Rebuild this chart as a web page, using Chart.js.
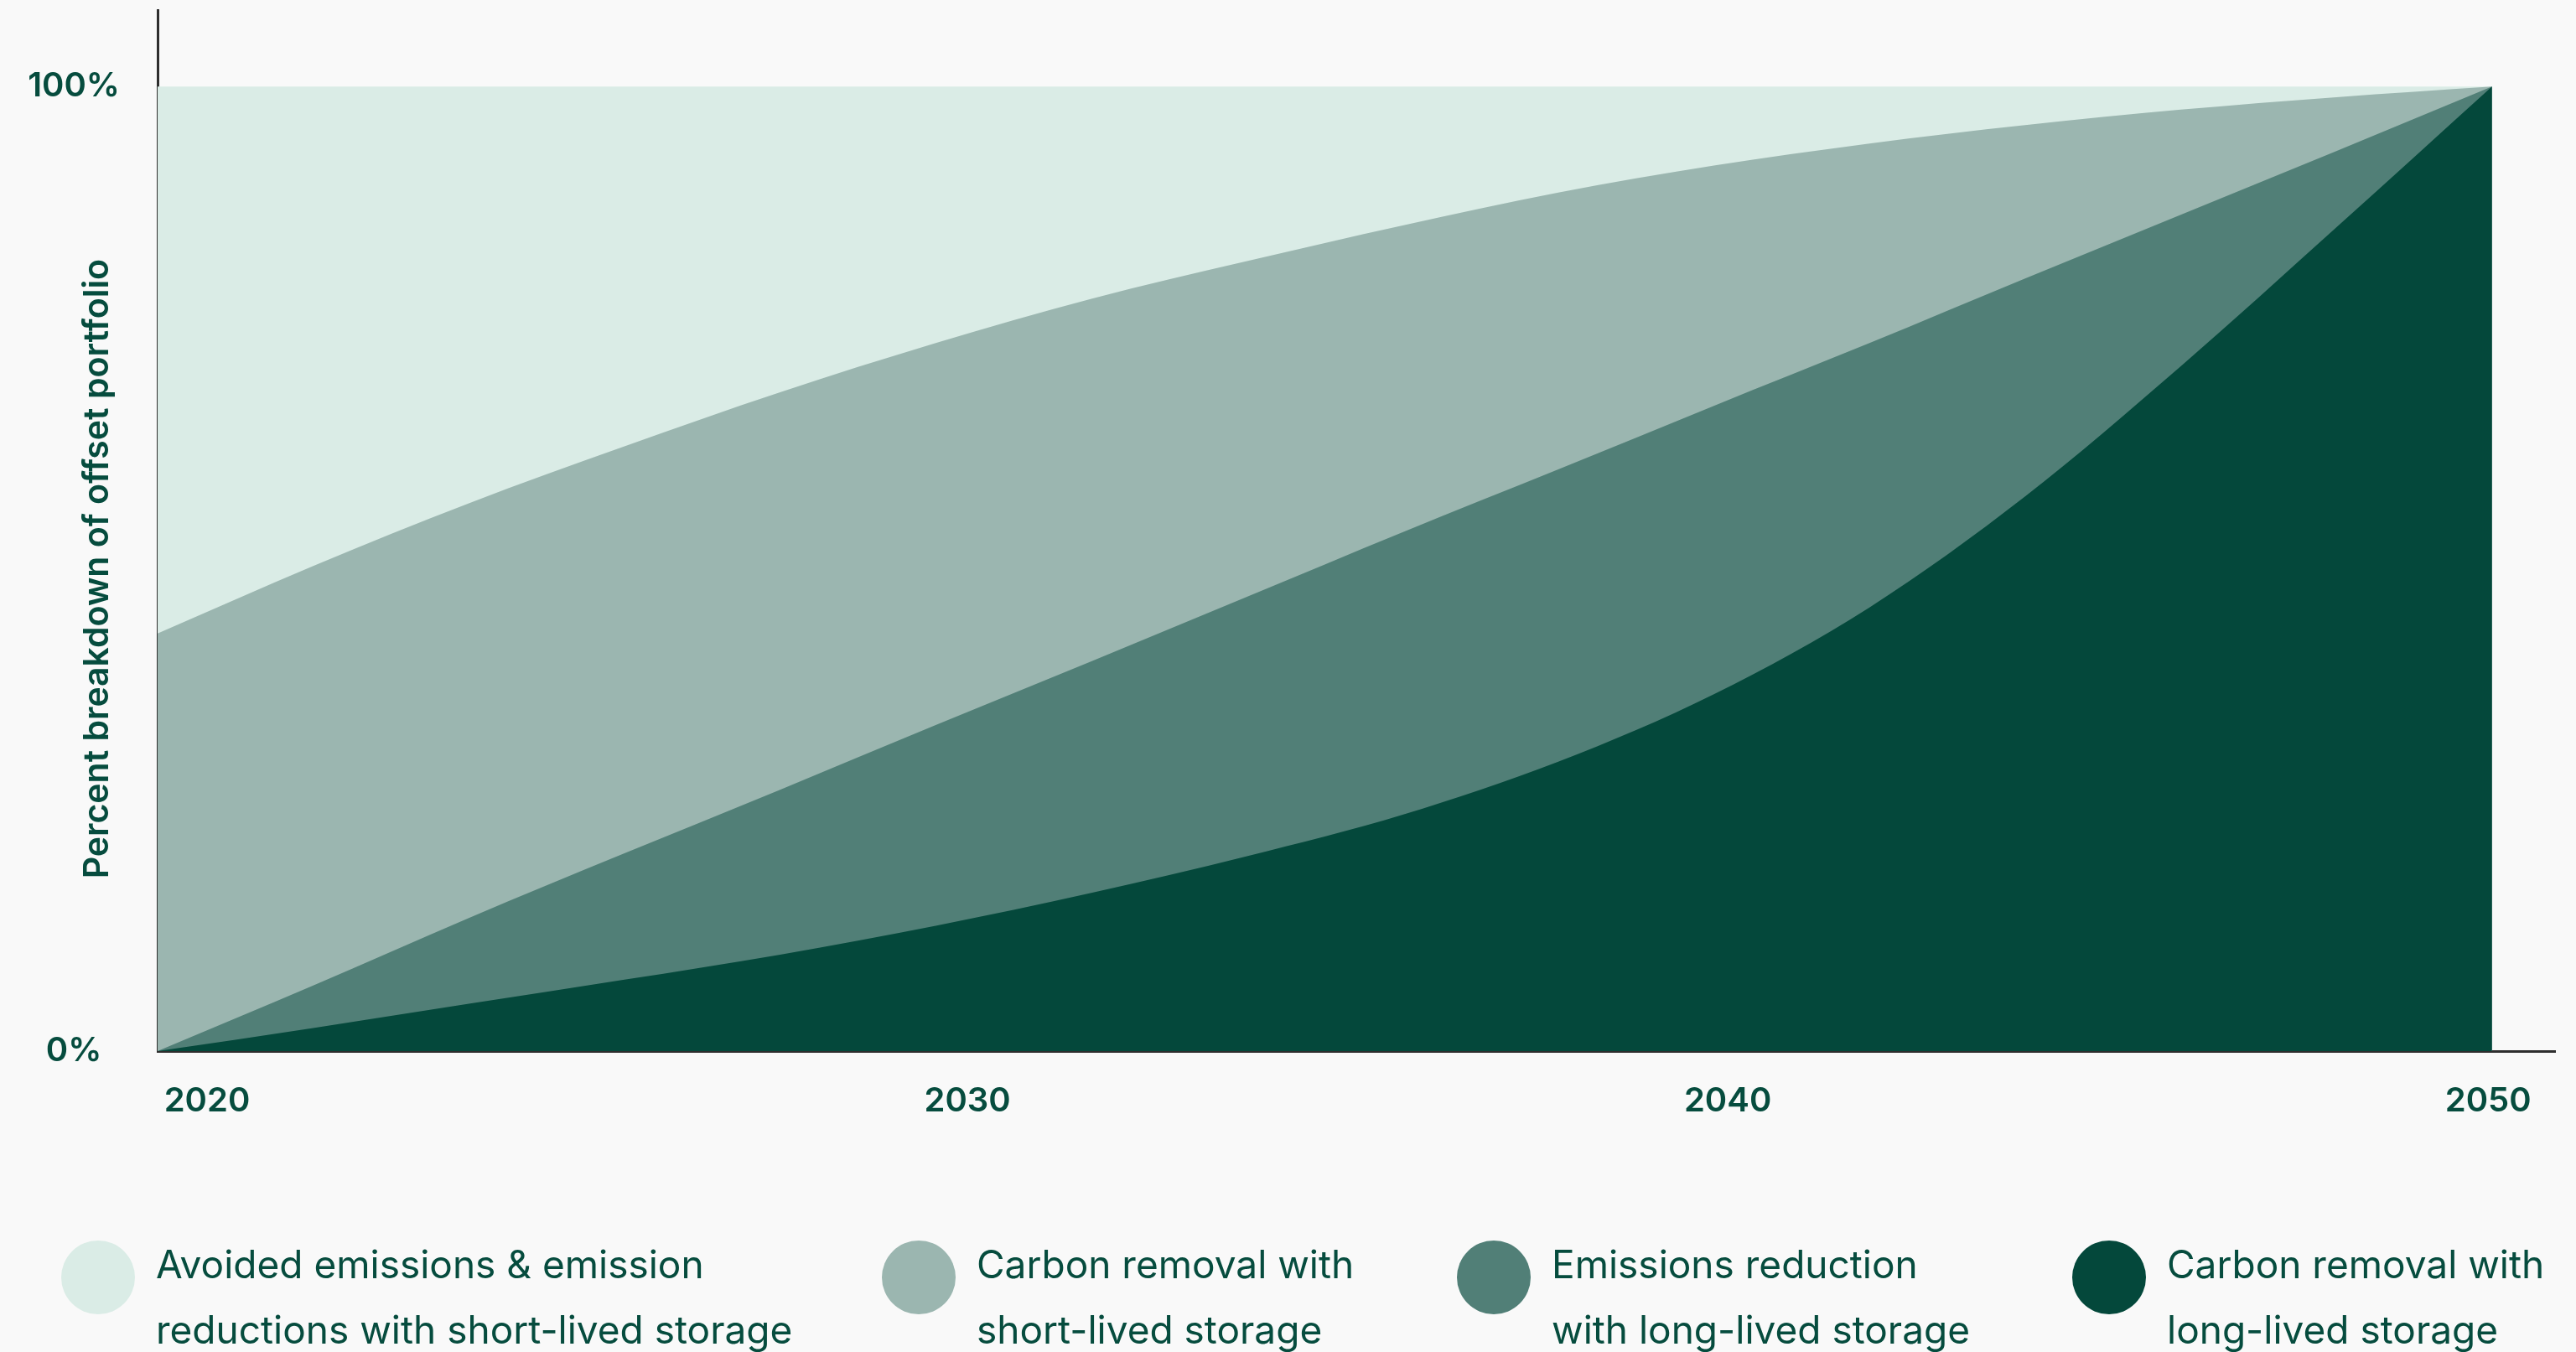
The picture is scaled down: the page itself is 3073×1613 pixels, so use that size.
<!DOCTYPE html>
<html>
<head>
<meta charset="utf-8">
<title>Offset portfolio breakdown</title>
<script src="https://cdn.jsdelivr.net/npm/chart.js@4.4.1/dist/chart.umd.min.js"></script>
<style>
  html, body { margin: 0; padding: 0; background: #f9f9f9; }
  #wrap { width: 3073px; height: 1613px; }
  canvas { display: block; }
</style>
</head>
<body>
<div id="wrap"><canvas id="chart" width="3073" height="1613"></canvas></div>
<script>
// Years sampled along the pathway
const years = [2020, 2022, 2024, 2026, 2028, 2030, 2032, 2034, 2036, 2038, 2040, 2042, 2044, 2046, 2048, 2050];

// Share of the offset portfolio (%) for each category
const avoidedShortLived  = [56.7, 49.7, 43.2, 37.3, 31.7, 26.6, 22.0, 18.1, 14.4, 11.0, 8.2, 5.9, 4.0, 2.4, 1.1, 0];
const removalShortLived  = [43.3, 43.5, 43.0, 42.2, 41.2, 39.6, 37.6, 34.8, 31.8, 28.7, 24.9, 20.7, 15.9, 10.9, 5.6, 0];
const reductionLongLived = [0, 4.4, 8.9, 13.1, 17.1, 20.8, 24.0, 26.9, 29.3, 30.3, 29.9, 27.4, 22.6, 15.7, 7.9, 0];
const removalLongLived   = [0, 2.4, 4.9, 7.4, 10.0, 13.0, 16.4, 20.2, 24.5, 30.0, 37.0, 46.0, 57.5, 71.0, 85.4, 100];

// Legend text, one entry per category, split into its two lines
const seriesLabels = [
  ['Avoided emissions & emission', 'reductions with short-lived storage'],
  ['Carbon removal with', 'short-lived storage'],
  ['Emissions reduction', 'with long-lived storage'],
  ['Carbon removal with', 'long-lived storage']
];
const seriesColors = ['#daece6', '#9bb6b0', '#517f77', '#04483b'];
const seriesValues = [avoidedShortLived, removalShortLived, reductionLongLived, removalLongLived];

const xTickLabels = ['2020', '2030', '2040', '2050'];
const yTickValues = [0, 100];
const yTickLabels = ['0%', '100%'];
const yAxisTitle = 'Percent breakdown of offset portfolio';

const TEXT = '#064c3e';
const AXIS = '#2e2e2e';

// Stack from the bottom up: the last legend entry sits at the base
const datasets = seriesValues.map((vals, i) => ({
  label: seriesLabels[i].join(' '),
  data: years.map((yr, k) => ({ x: yr, y: vals[k] })),
  backgroundColor: seriesColors[i],
  borderColor: seriesColors[i],
  borderWidth: 0,
  pointRadius: 0,
  fill: 'origin',
  cubicInterpolationMode: 'monotone'
})).reverse();

// Rotated y-axis title centred on the 0-100% span
const yTitlePlugin = {
  id: 'yTitle',
  afterDraw(chart) {
    const { ctx } = chart;
    const y = chart.scales.y;
    ctx.save();
    ctx.translate(117, y.getPixelForValue(50));
    ctx.rotate(-Math.PI / 2);
    ctx.font = '600 41px Inter';
    ctx.fillStyle = TEXT;
    ctx.textAlign = 'center';
    ctx.textBaseline = 'middle';
    ctx.fillText(yAxisTitle, 0, 0);
    ctx.restore();
  }
};

// Two-line legend with round swatches along the bottom
const legendX = [117, 1096, 1782, 2516];
const legendPlugin = {
  id: 'roundLegend',
  afterDraw(chart) {
    const { ctx } = chart;
    ctx.save();
    ctx.font = '400 46px Inter';
    ctx.textAlign = 'left';
    ctx.textBaseline = 'alphabetic';
    seriesLabels.forEach((lines, i) => {
      const cx = legendX[i];
      ctx.beginPath();
      ctx.arc(cx, 1524, 44, 0, Math.PI * 2);
      ctx.fillStyle = seriesColors[i];
      ctx.fill();
      ctx.fillStyle = TEXT;
      lines.forEach((line, j) => ctx.fillText(line, cx + 69, 1525 + j * 78));
    });
    ctx.restore();
  }
};

function noPad(scale) {
  scale.paddingLeft = 0; scale.paddingRight = 0;
  scale.paddingTop = 0; scale.paddingBottom = 0;
}

function draw() {
  new Chart(document.getElementById('chart'), {
    type: 'line',
    data: { datasets },
    plugins: [yTitlePlugin, legendPlugin],
    options: {
      responsive: false,
      animation: false,
      devicePixelRatio: 1,
      layout: { padding: { top: 12, left: 0, right: 25, bottom: 259 } },
      plugins: { legend: { display: false }, tooltip: { enabled: false } },
      elements: { line: { borderWidth: 0 } },
      scales: {
        x: {
          type: 'linear',
          position: 'bottom',
          weight: 0,
          min: 2020,
          max: 2050.81,
          grid: { display: false, drawTicks: false },
          border: { display: true, color: AXIS, width: 3 },
          ticks: { display: false },
          afterFit(s) { s.height = 0; noPad(s); }
        },
        years: {
          type: 'linear',
          position: 'bottom',
          weight: 1,
          min: -0.065,
          max: 3.088,
          grid: { display: false, drawTicks: false },
          border: { display: false },
          afterBuildTicks(s) { s.ticks = xTickLabels.map((_, i) => ({ value: i })); },
          ticks: {
            autoSkip: false,
            maxRotation: 0,
            padding: 36,
            color: TEXT,
            font: { family: 'Inter', size: 40, weight: '600' },
            callback: (v) => xTickLabels[v]
          },
          afterFit(s) { s.height = 100; noPad(s); }
        },
        y: {
          type: 'linear',
          stacked: true,
          min: 0,
          max: 107.93,
          grid: { display: false, drawTicks: false },
          border: { display: true, color: AXIS, width: 3 },
          afterBuildTicks(s) { s.ticks = yTickValues.map(v => ({ value: v })); },
          ticks: {
            crossAlign: 'center',
            padding: 45,
            color: TEXT,
            font: { family: 'Inter', size: 40, weight: '600' },
            callback: (v) => yTickLabels[yTickValues.indexOf(v)]
          },
          afterFit(s) { s.width = 188; noPad(s); }
        }
      }
    }
  });
}

Promise.all([
  document.fonts.load('600 40px Inter'),
  document.fonts.load('400 46px Inter')
]).then(draw, draw);
</script>
</body>
</html>
